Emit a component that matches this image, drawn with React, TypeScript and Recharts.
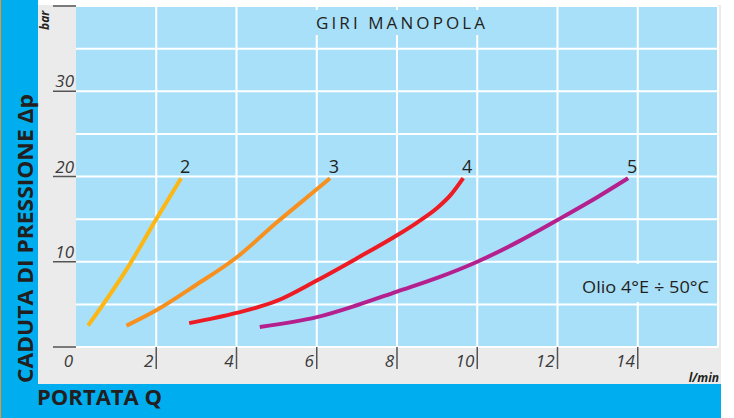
import React from 'react';
import { LineChart, Line, XAxis, YAxis, CartesianGrid } from 'recharts';

// giri manopola 2..5 — portata (l/min) vs caduta di pressione (bar)
const curve2X = [0.3, 1.3, 2.0, 2.62];
const curve2Y = [2.5, 9.4, 15.0, 19.8];
const curve3X = [1.26, 2.0, 3.0, 4.0, 5.0, 6.0, 6.33];
const curve3Y = [2.5, 4.3, 7.3, 10.5, 14.6, 18.5, 19.8];
const curve4X = [2.82, 4, 5, 6, 7, 8, 8.5, 9, 9.35, 9.65];
const curve4Y = [2.8, 4.0, 5.4, 7.8, 10.4, 13.1, 14.6, 16.3, 17.9, 19.8];
const curve5X = [4.58, 6, 7, 8, 9, 10, 11, 12, 13, 13.76];
const curve5Y = [2.35, 3.5, 4.9, 6.5, 8.1, 10.0, 12.3, 14.9, 17.6, 19.8];

const xTicks = [0, 2, 4, 6, 8, 10, 12, 14, 16];
const yTicks = [0, 5, 10, 15, 20, 25, 30, 35, 40];
const yLabelled = [0, 10, 20, 30];

const BLUE = '#00aeef';
const PLOT_BG = '#a9e0f9';
const GREY = '#ebebeb';
const INK = '#231f20';
const FONT = '"Open Sans", "Noto Sans", sans-serif';

const toPoints = (xs: number[], ys: number[]) => xs.map((x, i) => ({ x, y: ys[i] }));

const series = [
  { name: '2', color: '#fdb714', data: toPoints(curve2X, curve2Y) },
  { name: '3', color: '#f7901e', data: toPoints(curve3X, curve3Y) },
  { name: '4', color: '#ed1c24', data: toPoints(curve4X, curve4Y) },
  { name: '5', color: '#b5208f', data: toPoints(curve5X, curve5Y) },
];

const YTick = (props: any) => {
  const { y, payload } = props;
  const v = payload.value;
  if (v % 10 !== 0) return <g />;
  return (
    <g>
      <line x1={53} x2={76} y1={y} y2={y} stroke="#555" strokeWidth={1.5} />
      {yLabelled.includes(v) && (
        <text
          x={v === 0 ? 73 : 74}
          y={v === 0 ? y + 20 : y - 4}
          textAnchor="end"
          fontSize={17}
          fontStyle="italic"
          fill="#3a3a3a"
          fontFamily={FONT}
        >
          {v}
        </text>
      )}
    </g>
  );
};

const XTick = (props: any) => {
  const { x, payload } = props;
  const v = payload.value;
  if (v === 0 || v === 16) return <g />;
  return (
    <g>
      <line x1={x} x2={x} y1={347} y2={369} stroke="#555" strokeWidth={1.5} />
      <text x={x - 3} y={367} textAnchor="end" fontSize={17} fontStyle="italic" fill="#3a3a3a" fontFamily={FONT}>
        {v}
      </text>
    </g>
  );
};

const endLabel = (name: string, n: number) => (props: any) => {
  if (props.index !== n - 1) return null;
  return (
    <text x={props.x + 4} y={props.y - 5} textAnchor="middle" fontSize={18} fill={INK} fontFamily={FONT}>
      {name}
    </text>
  );
};

// no white line on the left edge of the plot
const verticalLines = ({ offset }: any) => {
  const step = offset.width / (xTicks.length - 1);
  return xTicks.slice(1).map((_, i) => offset.left + step * (i + 1));
};

export default function App() {
  return (
    <div style={{ position: 'absolute', left: 0, top: 0, width: 734, height: 418, background: '#fff' }}>
      <svg width={734} height={418} style={{ position: 'absolute', left: 0, top: 0 }}>
        <rect x={0} y={0} width={38} height={418} fill={BLUE} />
        <rect x={0} y={384} width={721} height={34} fill={BLUE} />
        <rect x={38} y={5} width={683} height={379} fill={GREY} />
        <line x1={0.5} x2={0.5} y1={0} y2={418} stroke="#f7941d" strokeWidth={1} />
      </svg>

      <div style={{ position: 'absolute', left: 0, top: 0 }}>
        <LineChart width={734} height={418} margin={{ top: 6, right: 16, bottom: 33, left: 38 }}>
          <CartesianGrid
            stroke="#ffffff"
            strokeWidth={2}
            fill={PLOT_BG}
            fillOpacity={1}
            verticalCoordinatesGenerator={verticalLines}
          />
          <XAxis
            type="number"
            dataKey="x"
            domain={[0, 16]}
            ticks={xTicks}
            interval={0}
            height={38}
            axisLine={false}
            tickLine={false}
            tick={<XTick />}
          />
          <YAxis
            type="number"
            dataKey="y"
            domain={[0, 40]}
            ticks={yTicks}
            interval={0}
            width={38}
            axisLine={false}
            tickLine={false}
            tick={<YTick />}
          />
          {series.map((s) => (
            <Line
              key={s.name}
              data={s.data}
              dataKey="y"
              type="monotone"
              stroke={s.color}
              strokeWidth={4}
              dot={false}
              isAnimationActive={false}
              label={endLabel(s.name, s.data.length)}
            />
          ))}
        </LineChart>
      </div>

      <svg width={734} height={418} style={{ position: 'absolute', left: 0, top: 0, pointerEvents: 'none' }}>
        <text
          transform="translate(33 383) rotate(-90)"
          fontSize={22}
          fontWeight={700}
          fill={INK}
          fontFamily={FONT}
          textLength={289}
          lengthAdjust="spacingAndGlyphs"
        >
          CADUTA DI PRESSIONE Δp
        </text>
        <text transform="translate(49 30) rotate(-90)" fontSize={12} fontWeight={700} fontStyle="italic" fill={INK} fontFamily={FONT}>
          bar
        </text>
        <text x={37} y={405} fontSize={21} fontWeight={700} fill={INK} fontFamily={FONT} textLength={125} lengthAdjust="spacingAndGlyphs">
          PORTATA Q
        </text>
        <text x={719} y={382} textAnchor="end" fontSize={12} fontWeight={700} fontStyle="italic" fill={INK} fontFamily={FONT}>
          l/min
        </text>

        <rect x={306} y={10} width={190} height={25} fill={PLOT_BG} />
        <text x={316} y={29} fontSize={17} fill={INK} fontFamily={FONT} textLength={169} lengthAdjust="spacing">
          GIRI MANOPOLA
        </text>

        <rect x={576} y={264} width={140} height={38} fill={PLOT_BG} />
        <text x={582} y={293} fontSize={16} fill={INK} fontFamily={FONT} textLength={127} lengthAdjust="spacingAndGlyphs">
          Olio 4°E ÷ 50°C
        </text>
      </svg>
    </div>
  );
}
